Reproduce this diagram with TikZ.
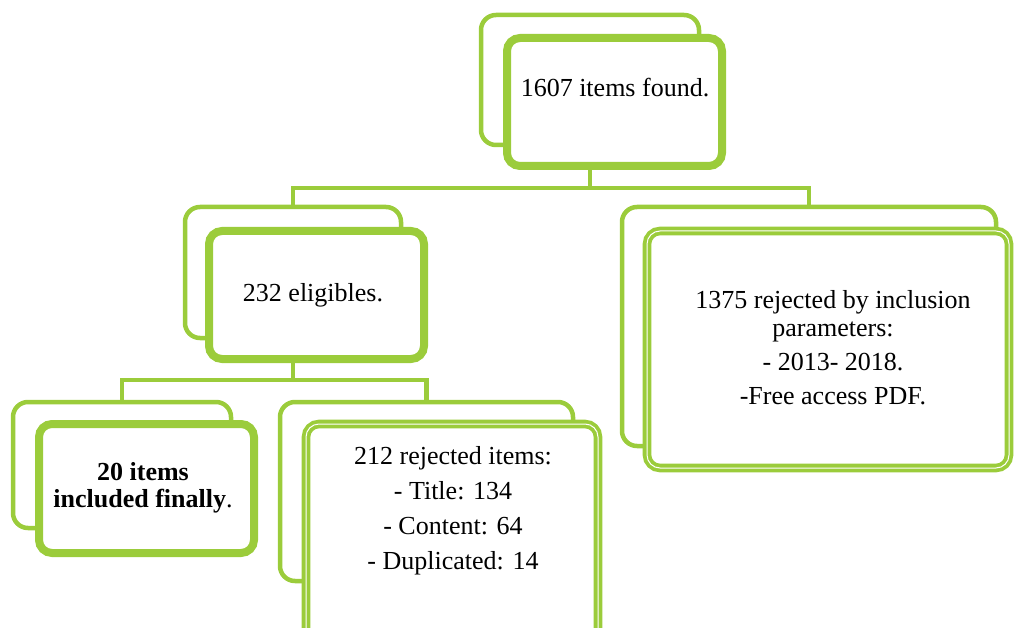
\documentclass[tikz,border=0pt]{standalone}
\usepackage{fontspec}
\setmainfont{Liberation Serif}
\definecolor{leaf}{RGB}{155,204,59}

\begin{document}
\begin{tikzpicture}[x=1pt, y=-1pt,
    backbox/.style={draw=leaf, line width=4.5pt, fill=white, rounded corners=15pt, rectangle, inner sep=0pt},
    frontbox/.style={draw=leaf, line width=8pt, fill=white, rounded corners=13pt, rectangle, inner sep=0pt},
    twinbox/.style={draw=leaf, line width=3.8pt, double=white, double distance=1pt, fill=white, rounded corners=13pt, rectangle, inner sep=0pt},
    link/.style={draw=leaf, line width=4.5pt},
    label/.style={align=center, font=\fontsize{26}{35}\selectfont, inner sep=0pt}]
  \useasboundingbox (0,0) rectangle (1014,628);
  \clip (0,0) rectangle (1014,628);
  \coordinate (bus1) at (0,188);
  \coordinate (bus2) at (0,380);

  \node[backbox, minimum width=218, minimum height=130] (foundback) at (590,80) {};
  \node[backbox, minimum width=216, minimum height=131] (eligback) at (293,272.5) {};
  \node[backbox, minimum width=218, minimum height=126] (inclback) at (122,465) {};
  \node[backbox, minimum width=293, minimum height=179] (rejback) at (426.5,491.5) {};
  \node[backbox, minimum width=374, minimum height=239] (paramback) at (809,326.5) {};

  \draw[link] (foundback.center) -- (foundback.center |- bus1);
  \draw[link] (eligback.north) |- (paramback.north |- bus1) -- (paramback.north);
  \draw[link] (eligback.center) -- (eligback.center |- bus2);
  \draw[link] (inclback.north) |- (rejback.north |- bus2) -- (rejback.north);

  \node[frontbox, minimum width=215, minimum height=128] (foundfront) at (614.5,102) {};
  \node[frontbox, minimum width=215, minimum height=128] (eligfront) at (316.5,295) {};
  \node[frontbox, minimum width=215, minimum height=129] (inclfront) at (146.5,488.5) {};
  \node[twinbox, minimum width=292, minimum height=232] (rejfront) at (452,540) {};
  \node[twinbox, minimum width=362, minimum height=237] (paramfront) at (828,349.5) {};

  \node[label] (foundtxt) at (615,88) {1607 items found.};
  \node[label] (eligtxt) at (313,295) {232 eligibles.};
  \node[label, font=\fontsize{26}{27}\selectfont] (incltxt) at (143,488) {\textbf{20 items}\\\textbf{included finally}.};
  \node[label] (rejtxt) at (453,510.5) {212 rejected items:\\- Title: 134\\- Content: 64\\- Duplicated: 14};
  \node[label, font=\fontsize{26}{28}\selectfont] (paramtxt) at (833,347.5) {1375 rejected by inclusion\\parameters:\\[6pt]- 2013- 2018.\\[6pt]-Free access PDF.};
\end{tikzpicture}
\end{document}
